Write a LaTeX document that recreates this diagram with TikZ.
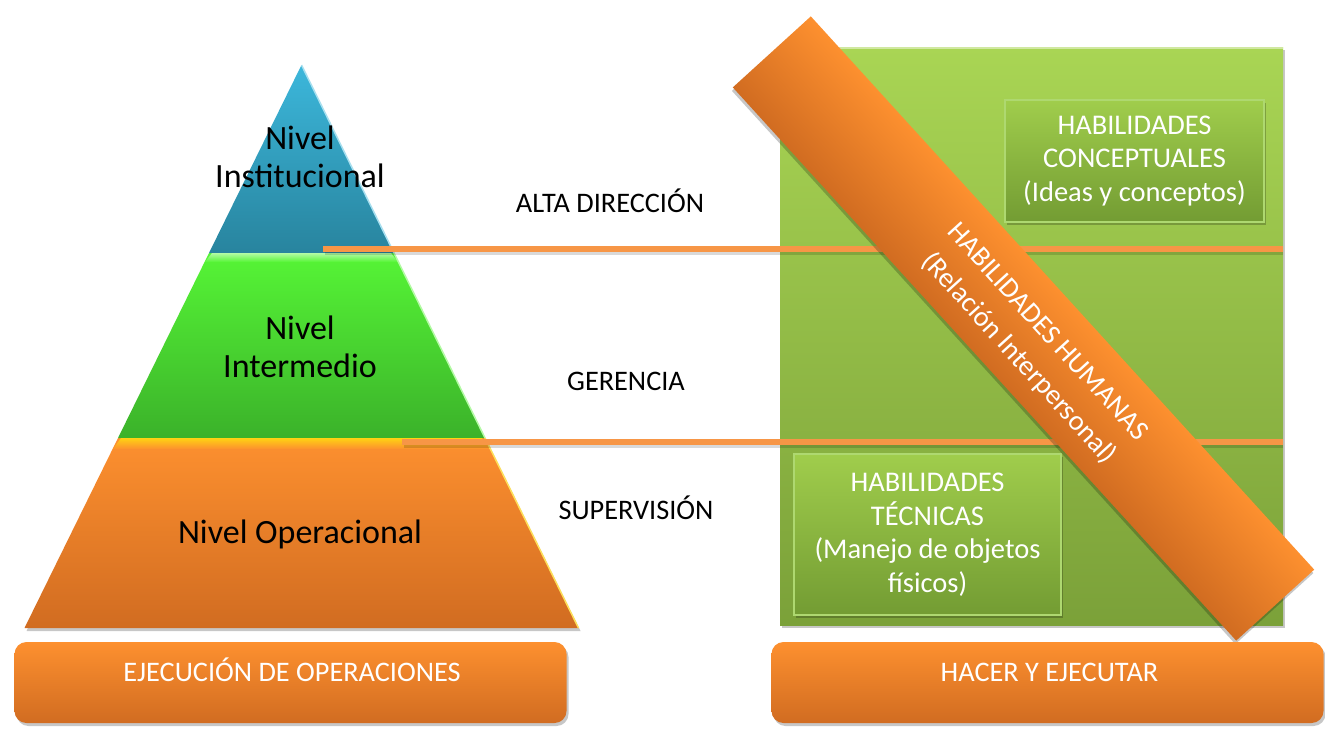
\documentclass[tikz,border=0pt]{standalone}
\usepackage{fontspec}
\setmainfont{Carlito}
\usetikzlibrary{shadows,calc}
\definecolor{blueT}{HTML}{3CB7DB}
\definecolor{blueB}{HTML}{28849E}
\definecolor{greenT}{HTML}{56F536}
\definecolor{greenB}{HTML}{3BB22A}
\definecolor{orT}{HTML}{FD902F}
\definecolor{orB}{HTML}{D16C21}
\definecolor{lineor}{HTML}{F79646}
\definecolor{sqT}{HTML}{A9D554}
\definecolor{sqB}{HTML}{7BA139}
\definecolor{bxT}{HTML}{A0CD4C}
\definecolor{bxB}{HTML}{739C33}
\definecolor{bxE}{HTML}{AED870}
\tikzset{
 shad/.style={drop shadow={shadow xshift=2pt,shadow yshift=-3pt,opacity=0.22,fill=black}},
 tiertext/.style={font=\fontsize{34}{38.5}\selectfont, align=center, text=black},
 lvl/.style={font=\fontsize{28.3}{33}\selectfont, anchor=base, text=black},
 hline/.style={lineor, line width=6.5pt},
 hshadow/.style={black, opacity=0.15, line width=6.5pt},
 sqbox/.style={shad, top color=sqT, bottom color=sqB, draw=none, minimum width=503pt, minimum height=578pt, inner sep=0pt},
 skill/.style={shad, top color=bxT, bottom color=bxB, draw=bxE, line width=1.2pt, align=center, text=white, font=\fontsize{28.5}{33.5}\selectfont, inner sep=0pt},
 botbox/.style={shad, top color=orT, bottom color=orB, rounded corners=12pt, minimum width=552pt, minimum height=81pt, inner sep=0pt},
 bottext/.style={font=\fontsize{28.3}{33}\selectfont, text=white, anchor=base},
 bandbox/.style={shad, top color=orT, bottom color=orB, minimum width=748pt, minimum height=105.5pt, inner sep=0pt},
 bandtext/.style={font=\fontsize{28.3}{39}\selectfont, text=white, align=center},
}
\begin{document}
\begin{tikzpicture}[x=1pt,y=-1pt]
\fill[white] (0,0) rectangle (1325,732);
\useasboundingbox (0,0) rectangle (1325,732);

% green square and skill boxes
\node[sqbox] (sq) at (1031.5,336) {};
\draw[sqT!55!white, line width=1.5pt] ([yshift=-1pt]sq.north west) -- ([yshift=-1pt]sq.north east);
\node[skill, minimum width=259pt, minimum height=122pt] (conc) at (1134.5,161) {HABILIDADES\\CONCEPTUALES\\(Ideas y conceptos)};
\node[skill, minimum width=267pt, minimum height=161pt] (tec) at (927.5,534.5) {HABILIDADES\\TÉCNICAS\\(Manejo de objetos\\físicos)};

% pyramid
\coordinate (A) at (301.5,65);
\coordinate (L1) at (209,253); \coordinate (R1) at (394,253);
\coordinate (L2) at (118,438); \coordinate (R2) at (485,438);
\coordinate (L3) at (24.5,628); \coordinate (R3) at (578.5,628);
\shade[shad, top color=orT, bottom color=orB] (L2) -- (R2) -- (R3) -- (L3) -- cycle;
\shade[top color=greenT, bottom color=greenB] (L1) -- (R1) -- (R2) -- (L2) -- cycle;
\shade[top color=blueT, bottom color=blueB] (A) -- (R1) -- (L1) -- cycle;
\shade[top color=greenT!45!white, bottom color=greenT] ([xshift=3pt]L1) -- ([xshift=-3pt]R1) -- (398,262) -- (205,262) -- cycle;
\shade[top color=orT!40!yellow, bottom color=orT] ([xshift=3pt]L2) -- ([xshift=-3pt]R2) -- (490,449) -- (113,449) -- cycle;
\draw[blueT!45!white, line width=1.5pt] (A) -- (R1);
\draw[greenT!45!white, line width=1.5pt] (R1) -- (R2);
\draw[orT!40!yellow!70!white, line width=1.5pt] (R2) -- (R3);

% level lines
\coordinate (l1s) at (323,249); \coordinate (l1e) at (sq.east |- l1s);
\coordinate (l2s) at (402,442); \coordinate (l2e) at (sq.east |- l2s);
\draw[hshadow] ([shift={(2,3)}]l1s) -- ([shift={(0,3)}]l1e);
\draw[hshadow] ([shift={(2,3)}]l2s) -- ([shift={(0,3)}]l2e);
\draw[hline] (l1s) -- (l1e);
\draw[hline] (l2s) -- (l2e);

% diagonal band
\begin{scope}[transform canvas={shift={(1023.5,328.5)},rotate=-47.7}]
  \node[bandbox] (hum) at (0,0) {};
  \node[bandtext] (humt) at (19,5) {HABILIDADES HUMANAS\\(Relación Interpersonal)};
\end{scope}

% bottom boxes
\node[botbox] (eje) at (290.5,682.5) {};
\node[botbox] (hac) at (1047.5,682.5) {};
\node[bottext] (ejet) at (292,681.5) {EJECUCIÓN DE OPERACIONES};
\node[bottext] (hact) at (1049.5,681.5) {HACER Y EJECUTAR};

% texts
\node[tiertext] (n1) at (300,157) {Nivel\\Institucional};
\node[tiertext] (n2) at (300,347) {Nivel\\Intermedio};
\node[tiertext, anchor=base] (n3) at (300,543) {Nivel Operacional};
\node[lvl] (alta) at (610,212) {ALTA DIRECCIÓN};
\node[lvl] (ger) at (626,390) {GERENCIA};
\node[lvl] (sup) at (636,519) {SUPERVISIÓN};
\end{tikzpicture}
\end{document}
